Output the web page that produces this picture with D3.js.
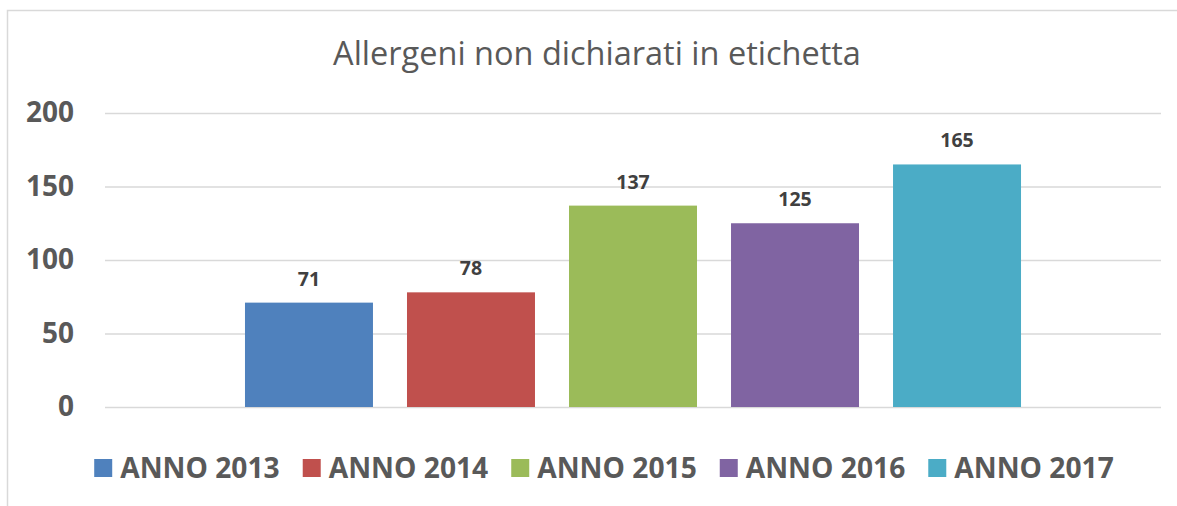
<!DOCTYPE html>
<html>
<head>
<meta charset="utf-8">
<script src="https://cdn.jsdelivr.net/npm/d3@7"></script>
<style>
  body { margin: 0; background: #fff; }
  svg { display: block; font-family: "Open Sans", sans-serif; }
</style>
</head>
<body>
<div id="chart"></div>
<script>
const title = "Allergeni non dichiarati in etichetta";
const seriesNames = ["ANNO 2013", "ANNO 2014", "ANNO 2015", "ANNO 2016", "ANNO 2017"];
const seriesValues = [71, 78, 137, 125, 165];
const seriesColors = ["#4F81BD", "#C0504D", "#9BBB59", "#8064A2", "#4BACC6"];
const yTicks = [0, 50, 100, 150, 200];

function renderChart() {
  const width = 1177;
  const height = 506;
  const plot = { left: 105, right: 1161, top: 113, bottom: 407 };

  const svg = d3.select("#chart").append("svg")
    .attr("width", width)
    .attr("height", height);

  // chart frame (only top and left edges fall inside the picture)
  svg.append("rect")
    .attr("x", 7.5)
    .attr("y", 10.5)
    .attr("width", 1200)
    .attr("height", 520)
    .attr("fill", "none")
    .attr("stroke", "#d9d9d9")
    .attr("stroke-width", 1.5);

  svg.append("text")
    .attr("x", 597)
    .attr("y", 65)
    .attr("text-anchor", "middle")
    .attr("font-size", 32.5)
    .attr("fill", "#595959")
    .text(title);

  const y = d3.scaleLinear()
    .domain([0, 200])
    .range([plot.bottom, plot.top]);

  const x = d3.scaleBand()
    .domain(seriesNames)
    .range([plot.left, plot.right])
    .paddingInner(0.21)
    .paddingOuter(0.864);

  const yAxis = svg.append("g")
    .attr("transform", `translate(${plot.left}, 0)`)
    .call(d3.axisLeft(y)
      .tickValues(yTicks)
      .tickSize(-(plot.right - plot.left))
      .tickPadding(31));

  yAxis.select(".domain").remove();
  yAxis.selectAll(".tick line")
    .attr("stroke", "#d9d9d9")
    .attr("stroke-width", 1.5);
  yAxis.selectAll(".tick text")
    .attr("font-family", "Open Sans, sans-serif")
    .attr("font-size", 28)
    .attr("font-weight", "bold")
    .attr("fill", "#595959");

  const data = seriesNames.map((name, i) => ({ name, value: seriesValues[i], color: seriesColors[i] }));

  svg.selectAll("rect.bar")
    .data(data)
    .join("rect")
    .attr("class", "bar")
    .attr("x", d => x(d.name))
    .attr("y", d => y(d.value))
    .attr("width", x.bandwidth())
    .attr("height", d => y(0) - y(d.value))
    .attr("fill", d => d.color);

  svg.selectAll("text.value")
    .data(data)
    .join("text")
    .attr("class", "value")
    .attr("x", d => x(d.name) + x.bandwidth() / 2)
    .attr("y", d => y(d.value) - 17)
    .attr("text-anchor", "middle")
    .attr("font-size", 19.5)
    .attr("font-weight", "bold")
    .attr("fill", "#404040")
    .text(d => d.value);

  // legend, laid out from measured text widths and centred
  const legend = svg.append("g");
  const items = legend.selectAll("g.item")
    .data(data)
    .join("g")
    .attr("class", "item");

  items.append("rect")
    .attr("y", 459)
    .attr("width", 18)
    .attr("height", 18)
    .attr("fill", d => d.color);

  items.append("text")
    .attr("x", 26)
    .attr("y", 478)
    .attr("font-size", 28.2)
    .attr("font-weight", "bold")
    .attr("fill", "#595959")
    .text(d => d.name);

  const gap = 23;
  let offset = 0;
  const widths = [];
  items.each(function() {
    const w = this.querySelector("text").getComputedTextLength() + 26;
    widths.push(w);
  });
  const total = d3.sum(widths) + gap * (widths.length - 1);
  offset = 604 - total / 2;
  items.attr("transform", (d, i) => {
    const tx = offset;
    offset += widths[i] + gap;
    return `translate(${tx}, 0)`;
  });
}

document.addEventListener("DOMContentLoaded", renderChart);
</script>
</body>
</html>
